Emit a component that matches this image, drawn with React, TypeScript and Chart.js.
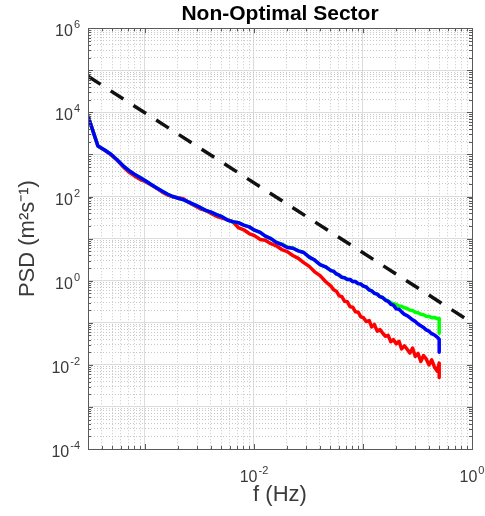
import React, { useEffect, useRef } from "react";
import { Chart, registerables } from "chart.js";

Chart.register(...registerables);

// Frequencies (Hz) shared by the three spectra
const freqHz = [
  0.0003, 0.00037, 0.00043, 0.00049, 0.00056, 0.00063, 0.00071, 0.0008, 0.0009, 0.001,
  0.00113, 0.00127, 0.00143, 0.0016, 0.0018, 0.00202, 0.00227, 0.00255, 0.00286, 0.00321,
  0.0036, 0.00404, 0.00453, 0.00508, 0.0057, 0.0064, 0.00718, 0.00805, 0.00903, 0.0101,
  0.0114, 0.0127, 0.0143, 0.016, 0.018, 0.0202, 0.0227, 0.0255, 0.0286, 0.0321,
  0.036, 0.0404, 0.0453, 0.0508, 0.054, 0.057, 0.0605, 0.064, 0.0678, 0.0718,
  0.076, 0.0805, 0.0852, 0.0903, 0.0956, 0.101, 0.107, 0.114, 0.12, 0.127,
  0.135, 0.143, 0.151, 0.16, 0.17, 0.18, 0.19, 0.202, 0.214, 0.226,
  0.24, 0.254, 0.269, 0.285, 0.302, 0.32, 0.339, 0.359, 0.38, 0.403,
  0.427, 0.452, 0.479, 0.5, 0.5,
];

// PSD values, as log10(PSD)
const psdBlueLog10 = [
  3.91, 3.2, 3.1, 3.0, 2.86, 2.73, 2.62, 2.53, 2.45, 2.38,
  2.29, 2.21, 2.13, 2.06, 2.0, 1.96, 1.92, 1.86, 1.8, 1.74,
  1.67, 1.63, 1.57, 1.52, 1.44, 1.4, 1.38, 1.32, 1.28, 1.2,
  1.15, 1.06, 1.0, 0.91, 0.86, 0.79, 0.77, 0.71, 0.67, 0.56,
  0.49, 0.38, 0.33, 0.24, 0.22, 0.16, 0.13, 0.08, 0.07, 0.03,
  0.03, -0.02, -0.02, -0.07, -0.08, -0.13, -0.15, -0.22, -0.24, -0.3,
  -0.32, -0.38, -0.4, -0.46, -0.49, -0.56, -0.58, -0.67, -0.68, -0.74,
  -0.8, -0.83, -0.88, -0.93, -0.97, -1.03, -1.07, -1.11, -1.17, -1.2,
  -1.26, -1.29, -1.34, -1.39, -1.7,
];

const psdGreenLog10 = [
  3.91, 3.2, 3.1, 3.0, 2.86, 2.73, 2.62, 2.53, 2.45, 2.38,
  2.29, 2.21, 2.13, 2.06, 2.0, 1.96, 1.92, 1.86, 1.8, 1.74,
  1.67, 1.63, 1.57, 1.52, 1.44, 1.4, 1.38, 1.32, 1.28, 1.2,
  1.15, 1.06, 1.0, 0.91, 0.87, 0.8, 0.78, 0.71, 0.67, 0.56,
  0.49, 0.38, 0.33, 0.24, 0.22, 0.16, 0.13, 0.08, 0.07, 0.03,
  0.03, -0.02, -0.02, -0.07, -0.08, -0.13, -0.15, -0.22, -0.24, -0.3,
  -0.32, -0.38, -0.4, -0.45, -0.48, -0.52, -0.55, -0.565, -0.6, -0.61,
  -0.645, -0.66, -0.7, -0.71, -0.75, -0.76, -0.8, -0.81, -0.845, -0.85,
  -0.88, -0.875, -0.9, -0.9, -1.25,
];

const psdRedLog10 = [
  3.91, 3.2, 3.09, 2.99, 2.85, 2.71, 2.58, 2.49, 2.41, 2.36,
  2.28, 2.2, 2.11, 2.04, 1.99, 1.97, 1.94, 1.85, 1.78, 1.71,
  1.67, 1.6, 1.53, 1.49, 1.45, 1.4, 1.26, 1.21, 1.12, 1.07,
  0.98, 0.96, 0.88, 0.83, 0.74, 0.69, 0.6, 0.53, 0.43, 0.34,
  0.21, 0.12, -0.02, -0.13, -0.22, -0.25, -0.36, -0.38, -0.49, -0.5,
  -0.62, -0.63, -0.74, -0.75, -0.86, -0.88, -0.97, -0.95, -1.1, -1.04,
  -1.2, -1.16, -1.24, -1.32, -1.3, -1.45, -1.4, -1.5, -1.44, -1.62,
  -1.55, -1.63, -1.72, -1.6, -1.8, -1.73, -1.92, -1.78, -1.86, -2.0,
  -1.88, -2.05, -2.15, -1.96, -2.3,
];

// -5/3 reference line end points
const refFreqHz = [0.0003, 1];
const refPsd = [72000, 0.1];

// Axis ranges and labelled ticks
const xRange = [0.0003, 1];
const yRange = [1e-4, 1e6];
const xLabelTicks = [1e-2, 1];
const yLabelTicks = [1e-4, 1e-2, 1, 1e2, 1e4, 1e6];

const FONT = '"Liberation Sans", Arial, Helvetica, sans-serif';
const TEXT = "#3a3a3a";

function logGridTicks(min: number, max: number) {
  const ticks: { value: number; major: boolean }[] = [];
  const e0 = Math.floor(Math.log10(min));
  const e1 = Math.ceil(Math.log10(max));
  for (let e = e0; e <= e1; e++) {
    for (let m = 1; m <= 9; m++) {
      const v = m * Math.pow(10, e);
      if (v >= min * 0.9999 && v <= max * 1.0001) ticks.push({ value: v, major: m === 1 });
    }
  }
  return ticks;
}

function isMajorValue(v: number) {
  const l = Math.log10(v);
  return Math.abs(l - Math.round(l)) < 1e-6;
}

function drawPow(ctx: CanvasRenderingContext2D, x: number, baseline: number, exp: string, align: "center" | "right") {
  ctx.font = `16px ${FONT}`;
  const wb = ctx.measureText("10").width;
  ctx.font = `11px ${FONT}`;
  const we = ctx.measureText(exp).width;
  const total = wb + 1 + we;
  const x0 = align === "center" ? x - total / 2 : x - total;
  ctx.textAlign = "left";
  ctx.textBaseline = "alphabetic";
  ctx.fillStyle = TEXT;
  ctx.font = `16px ${FONT}`;
  ctx.fillText("10", x0, baseline);
  ctx.font = `11px ${FONT}`;
  ctx.fillText(exp, x0 + wb + 1, baseline - 8);
}

const decorPlugin = {
  id: "matlabDecor",
  afterDraw(chart: any) {
    const { ctx, chartArea: a, scales } = chart;
    const xs = scales.x;
    const ys = scales.y;
    ctx.save();
    ctx.strokeStyle = "#5a5a5a";
    ctx.lineWidth = 1;
    ctx.beginPath();
    xs.ticks.forEach((t: any) => {
      const px = Math.round(xs.getPixelForValue(t.value)) + 0.5;
      const len = isMajorValue(t.value) ? 5 : 3;
      ctx.moveTo(px, a.bottom);
      ctx.lineTo(px, a.bottom - len);
      ctx.moveTo(px, a.top);
      ctx.lineTo(px, a.top + len);
    });
    ys.ticks.forEach((t: any) => {
      const py = Math.round(ys.getPixelForValue(t.value)) + 0.5;
      const len = isMajorValue(t.value) ? 5 : 3;
      ctx.moveTo(a.left, py);
      ctx.lineTo(a.left + len, py);
      ctx.moveTo(a.right, py);
      ctx.lineTo(a.right - len, py);
    });
    ctx.stroke();
    ctx.strokeRect(Math.round(a.left) + 0.5, Math.round(a.top) + 0.5, Math.round(a.right) - Math.round(a.left), Math.round(a.bottom) - Math.round(a.top));

    xLabelTicks.forEach((v) => {
      const px = xs.getPixelForValue(v);
      drawPow(ctx, px, a.bottom + 33, String(Math.round(Math.log10(v))), "center");
    });
    yLabelTicks.forEach((v) => {
      const py = ys.getPixelForValue(v);
      drawPow(ctx, a.left - 8, py + 8, String(Math.round(Math.log10(v))), "right");
    });
    ctx.restore();
  },
};

function gridColor(c: any) {
  const v = c.tick ? c.tick.value : 1;
  return isMajorValue(v) ? "#dcdcdc" : "#c9c9c9";
}
function gridDash(c: any) {
  const v = c.tick ? c.tick.value : 1;
  return isMajorValue(v) ? [] : [1, 2];
}

export default function App() {
  const canvasRef = useRef<HTMLCanvasElement | null>(null);

  useEffect(() => {
    document.body.style.margin = "0";
    const canvas = canvasRef.current;
    if (!canvas) return;

    const mk = (vals: number[]) => freqHz.map((f, i) => ({ x: f, y: Math.pow(10, vals[i]) }));
    const refData = refFreqHz.map((f, i) => ({ x: f, y: refPsd[i] }));

    const chart = new Chart(canvas, {
      type: "line",
      data: {
        datasets: [
          {
            label: "-5/3",
            data: refData,
            borderColor: "#111111",
            borderWidth: 3.5,
            borderDash: [15, 12],
            pointRadius: 0,
            fill: false,
          },
          {
            label: "blue",
            data: mk(psdBlueLog10),
            borderColor: "#0000ff",
            borderWidth: 3.5,
            pointRadius: 0,
            fill: false,
            borderJoinStyle: "round",
          },
          {
            label: "green",
            data: mk(psdGreenLog10),
            borderColor: "#00ff00",
            borderWidth: 3.5,
            pointRadius: 0,
            fill: false,
            borderJoinStyle: "round",
          },
          {
            label: "red",
            data: mk(psdRedLog10),
            borderColor: "#ff0000",
            borderWidth: 3.5,
            pointRadius: 0,
            fill: false,
            borderJoinStyle: "round",
          },
        ],
      },
      options: {
        animation: false,
        responsive: false,
        devicePixelRatio: 1,
        parsing: false,
        normalized: true,
        layout: { padding: { top: 0, right: 13, bottom: 0, left: 0 } },
        plugins: {
          legend: { display: false },
          tooltip: { enabled: false },
          title: {
            display: true,
            text: "Non-Optimal Sector",
            fullSize: false,
            color: "#000",
            font: { family: FONT, size: 21, weight: "bold" },
            padding: { top: 2, bottom: 1 },
          },
        },
        scales: {
          x: {
            type: "logarithmic",
            min: xRange[0],
            max: xRange[1],
            afterBuildTicks: (s: any) => {
              s.ticks = logGridTicks(s.min, s.max);
            },
            afterFit: (s: any) => {
              s.height = 67;
            },
            ticks: { display: false, autoSkip: false },
            grid: { color: gridColor, lineWidth: 1, drawTicks: false },
            border: { display: false, dash: gridDash },
            title: {
              display: true,
              text: "f (Hz)",
              color: TEXT,
              font: { family: FONT, size: 22 },
              padding: { top: 0, bottom: 8 },
            },
          },
          y: {
            type: "logarithmic",
            min: yRange[0],
            max: yRange[1],
            afterBuildTicks: (s: any) => {
              s.ticks = logGridTicks(s.min, s.max);
            },
            afterFit: (s: any) => {
              s.width = 88;
            },
            ticks: { display: false, autoSkip: false },
            grid: { color: gridColor, lineWidth: 1, drawTicks: false },
            border: { display: false, dash: gridDash },
            title: {
              display: true,
              text: "PSD (m²s⁻¹)",
              color: TEXT,
              font: { family: FONT, size: 22 },
              padding: { top: 15, bottom: 0 },
            },
          },
        },
      } as any,
      plugins: [decorPlugin],
    });

    return () => chart.destroy();
  }, []);

  return (
    <div style={{ width: 485, height: 516 }}>
      <canvas ref={canvasRef} width={485} height={516} style={{ display: "block" }} />
    </div>
  );
}
